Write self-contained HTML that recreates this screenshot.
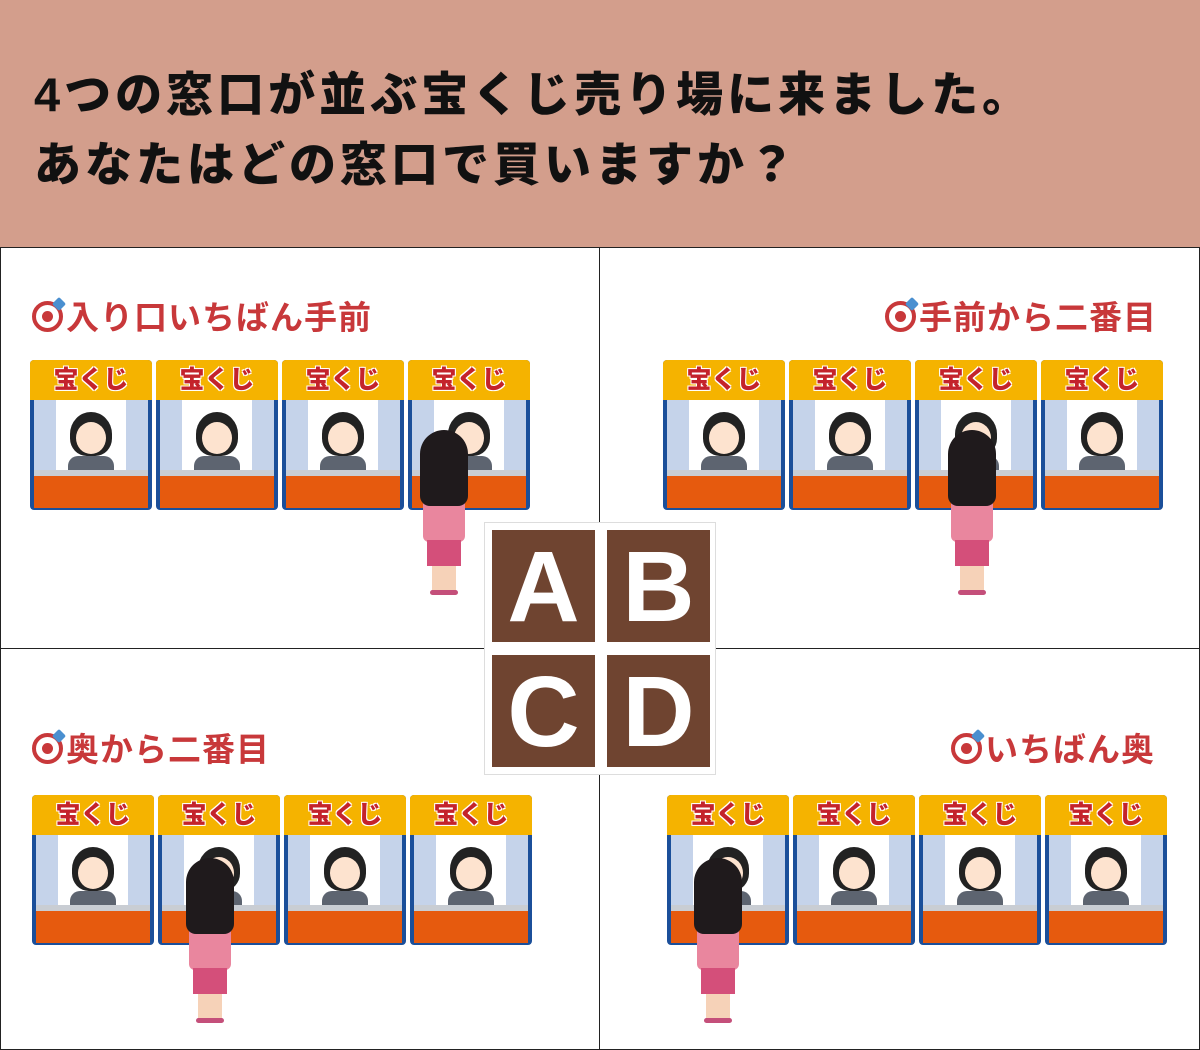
<!DOCTYPE html>
<html><head><meta charset="utf-8">
<style>
*{margin:0;padding:0;box-sizing:border-box}
body{width:1200px;height:1050px;background:#fff;position:relative;overflow:hidden;font-family:"Liberation Sans","Noto Sans CJK JP",sans-serif}
.hd{position:absolute;left:0;top:0;width:1200px;height:247px;background:#d39e8c}
.t{position:absolute;left:34px;font-size:47px;font-weight:900;color:#111;letter-spacing:4px;white-space:nowrap;line-height:1}
.ln{position:absolute;background:#222}
.lbl{position:absolute;font-size:33px;font-weight:bold;color:#c8383a;white-space:nowrap;line-height:1;letter-spacing:1px}
.tg{display:inline-block;width:31px;height:31px;border-radius:50%;border:4px solid #c8383a;vertical-align:-3px;margin-right:3px;position:relative;background:#fff}
.tg:after{content:"";position:absolute;left:6px;top:6px;width:11px;height:11px;border-radius:50%;background:#c8383a}
.tg:before{content:"";position:absolute;right:-5px;top:-6px;width:10px;height:10px;background:#4a8fd0;transform:rotate(45deg);border-radius:2px}
.b{position:absolute;width:122px;height:150px;background:#1b4f9a;border-radius:4px;overflow:hidden}
.b .y{position:absolute;left:0;top:0;width:122px;height:40px;background:#f5b300;color:#c4232b;font-size:25px;font-weight:900;text-align:center;line-height:40px;letter-spacing:0px;text-shadow:1px 1px 0 #fff,-1px -1px 0 #fff,1px -1px 0 #fff,-1px 1px 0 #fff}
.b .p{position:absolute;top:40px;width:22px;height:72px;background:#c5d3ea}
.b .w{position:absolute;left:26px;top:40px;width:70px;height:72px;background:#fff}
.b .h{position:absolute;left:40px;top:52px;width:42px;height:44px;border-radius:50% 50% 40% 40%;background:#222}
.b .f{position:absolute;left:46px;top:62px;width:30px;height:32px;border-radius:50%;background:#fde3cf}
.b .s{position:absolute;left:38px;top:96px;width:46px;height:16px;border-radius:10px 10px 0 0;background:#5d6470}
.b .k{position:absolute;left:4px;top:110px;width:114px;height:6px;background:#c9cdd3}
.b .o{position:absolute;left:4px;top:116px;width:114px;height:32px;background:#e65a0e}
.pe{position:absolute;width:48px;height:168px}
.pe .hr{position:absolute;left:0;top:0;width:48px;height:76px;border-radius:24px 24px 10px 10px;background:#1f1a1c}
.pe .bd{position:absolute;left:3px;top:62px;width:42px;height:50px;border-radius:6px;background:#e9869e}
.pe .sk{position:absolute;left:7px;top:110px;width:34px;height:26px;background:#d44f7a}
.pe .lg{position:absolute;left:12px;top:136px;width:24px;height:26px;background:#f6d2b8}
.pe .ft{position:absolute;left:10px;top:160px;width:28px;height:5px;border-radius:3px;background:#c44f7a}
.box{position:absolute;left:484px;top:522px;width:232px;height:253px;background:#fff;border:1px solid #ddd}
.tile{position:absolute;width:103px;height:112px;background:#6f4430;color:#fff;font-size:100px;font-weight:bold;text-align:center;line-height:114px;font-family:"Liberation Sans",sans-serif}
</style></head><body>
<div class="hd"></div>
<div class="t" style="top:71px">4つの窓口が並ぶ宝くじ売り場に来ました。</div>
<div class="t" style="top:141px">あなたはどの窓口で買いますか？</div>

<div class="ln" style="left:0;top:247px;width:1200px;height:1px"></div>
<div class="ln" style="left:599px;top:247px;width:1px;height:803px"></div>
<div class="ln" style="left:0;top:648px;width:1200px;height:1px"></div>
<div class="ln" style="left:0;top:247px;width:1px;height:803px"></div>
<div class="ln" style="left:1199px;top:247px;width:1px;height:803px"></div>
<div class="ln" style="left:0;top:1049px;width:1200px;height:1px"></div>

<div class="lbl" style="left:32px;top:301px"><span class="tg"></span>入り口いちばん手前</div>
<div class="lbl" style="right:43px;top:301px"><span class="tg"></span>手前から二番目</div>
<div class="lbl" style="left:32px;top:733px"><span class="tg"></span>奥から二番目</div>
<div class="lbl" style="right:45px;top:733px"><span class="tg"></span>いちばん奥</div>

<!-- A -->
<div class="b" style="left:30px;top:360px"><div class="y">宝くじ</div><div class="p" style="left:4px"></div><div class="p" style="left:96px"></div><div class="w"></div><div class="h"></div><div class="f"></div><div class="s"></div><div class="k"></div><div class="o"></div></div>
<div class="b" style="left:156px;top:360px"><div class="y">宝くじ</div><div class="p" style="left:4px"></div><div class="p" style="left:96px"></div><div class="w"></div><div class="h"></div><div class="f"></div><div class="s"></div><div class="k"></div><div class="o"></div></div>
<div class="b" style="left:282px;top:360px"><div class="y">宝くじ</div><div class="p" style="left:4px"></div><div class="p" style="left:96px"></div><div class="w"></div><div class="h"></div><div class="f"></div><div class="s"></div><div class="k"></div><div class="o"></div></div>
<div class="b" style="left:408px;top:360px"><div class="y">宝くじ</div><div class="p" style="left:4px"></div><div class="p" style="left:96px"></div><div class="w"></div><div class="h"></div><div class="f"></div><div class="s"></div><div class="k"></div><div class="o"></div></div>
<!-- B -->
<div class="b" style="left:663px;top:360px"><div class="y">宝くじ</div><div class="p" style="left:4px"></div><div class="p" style="left:96px"></div><div class="w"></div><div class="h"></div><div class="f"></div><div class="s"></div><div class="k"></div><div class="o"></div></div>
<div class="b" style="left:789px;top:360px"><div class="y">宝くじ</div><div class="p" style="left:4px"></div><div class="p" style="left:96px"></div><div class="w"></div><div class="h"></div><div class="f"></div><div class="s"></div><div class="k"></div><div class="o"></div></div>
<div class="b" style="left:915px;top:360px"><div class="y">宝くじ</div><div class="p" style="left:4px"></div><div class="p" style="left:96px"></div><div class="w"></div><div class="h"></div><div class="f"></div><div class="s"></div><div class="k"></div><div class="o"></div></div>
<div class="b" style="left:1041px;top:360px"><div class="y">宝くじ</div><div class="p" style="left:4px"></div><div class="p" style="left:96px"></div><div class="w"></div><div class="h"></div><div class="f"></div><div class="s"></div><div class="k"></div><div class="o"></div></div>
<!-- C -->
<div class="b" style="left:32px;top:795px"><div class="y">宝くじ</div><div class="p" style="left:4px"></div><div class="p" style="left:96px"></div><div class="w"></div><div class="h"></div><div class="f"></div><div class="s"></div><div class="k"></div><div class="o"></div></div>
<div class="b" style="left:158px;top:795px"><div class="y">宝くじ</div><div class="p" style="left:4px"></div><div class="p" style="left:96px"></div><div class="w"></div><div class="h"></div><div class="f"></div><div class="s"></div><div class="k"></div><div class="o"></div></div>
<div class="b" style="left:284px;top:795px"><div class="y">宝くじ</div><div class="p" style="left:4px"></div><div class="p" style="left:96px"></div><div class="w"></div><div class="h"></div><div class="f"></div><div class="s"></div><div class="k"></div><div class="o"></div></div>
<div class="b" style="left:410px;top:795px"><div class="y">宝くじ</div><div class="p" style="left:4px"></div><div class="p" style="left:96px"></div><div class="w"></div><div class="h"></div><div class="f"></div><div class="s"></div><div class="k"></div><div class="o"></div></div>
<!-- D -->
<div class="b" style="left:667px;top:795px"><div class="y">宝くじ</div><div class="p" style="left:4px"></div><div class="p" style="left:96px"></div><div class="w"></div><div class="h"></div><div class="f"></div><div class="s"></div><div class="k"></div><div class="o"></div></div>
<div class="b" style="left:793px;top:795px"><div class="y">宝くじ</div><div class="p" style="left:4px"></div><div class="p" style="left:96px"></div><div class="w"></div><div class="h"></div><div class="f"></div><div class="s"></div><div class="k"></div><div class="o"></div></div>
<div class="b" style="left:919px;top:795px"><div class="y">宝くじ</div><div class="p" style="left:4px"></div><div class="p" style="left:96px"></div><div class="w"></div><div class="h"></div><div class="f"></div><div class="s"></div><div class="k"></div><div class="o"></div></div>
<div class="b" style="left:1045px;top:795px"><div class="y">宝くじ</div><div class="p" style="left:4px"></div><div class="p" style="left:96px"></div><div class="w"></div><div class="h"></div><div class="f"></div><div class="s"></div><div class="k"></div><div class="o"></div></div>

<!-- people -->
<div class="pe" style="left:420px;top:430px"><div class="bd"></div><div class="hr"></div><div class="sk"></div><div class="lg"></div><div class="ft"></div></div>
<div class="pe" style="left:948px;top:430px"><div class="bd"></div><div class="hr"></div><div class="sk"></div><div class="lg"></div><div class="ft"></div></div>
<div class="pe" style="left:186px;top:858px"><div class="bd"></div><div class="hr"></div><div class="sk"></div><div class="lg"></div><div class="ft"></div></div>
<div class="pe" style="left:694px;top:858px"><div class="bd"></div><div class="hr"></div><div class="sk"></div><div class="lg"></div><div class="ft"></div></div>

<div class="box"></div>
<div class="tile" style="left:492px;top:530px">A</div>
<div class="tile" style="left:607px;top:530px">B</div>
<div class="tile" style="left:492px;top:655px">C</div>
<div class="tile" style="left:607px;top:655px">D</div>
</body></html>
